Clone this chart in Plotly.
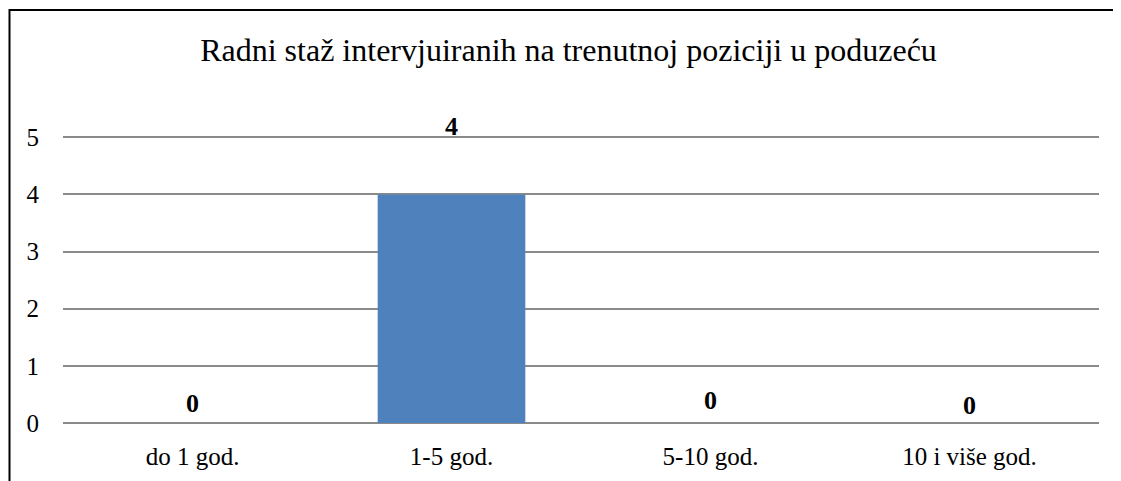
import plotly.graph_objects as go

categories = ["do 1 god.", "1-5 god.", "5-10 god.", "10 i više god."]
values = [0, 4, 0, 0]
label_shift = [20, 68, 23, 18]
y_ticks = [0, 1, 2, 3, 4, 5]
y_max = 5.04

OX, OY = 8, 8  # page body offset
W, H = 1121 - OX, 481 - OY
unit = (423 - 137) / 5.0
L, R, B = 63 - OX, 22, 58
T = int(round(423 - y_max * unit)) - OY
pw, ph = W - L - R, H - T - B

fig = go.Figure()
fig.add_trace(go.Bar(x=categories, y=values, marker=dict(color="#4F81BD", line=dict(width=0)),
                     hoverinfo="skip"))

for c, v, s in zip(categories, values, label_shift):
    fig.add_annotation(x=c, y=v, text="<b>%d</b>" % v, showarrow=False, yshift=s,
                       yanchor="middle",
                       font=dict(family="Liberation Serif", size=26, color="black"))

fig.add_shape(type="rect", xref="paper", yref="paper",
              x0=(1.5 - L) / pw, x1=1.2, y0=-0.5, y1=1 + (T - 2) / ph,
              line=dict(color="black", width=2), fillcolor="rgba(0,0,0,0)", layer="above")

fig.update_layout(
    width=W, height=H,
    margin=dict(l=L, r=R, t=T, b=B),
    paper_bgcolor="white", plot_bgcolor="white",
    showlegend=False,
    bargap=0.43,
    title=dict(text="Radni staž intervjuiranih na trenutnoj poziciji u poduzeću",
               x=(568.5 - 63) / 1036, xref="paper", xanchor="center",
               y=(H - 42) / H, yanchor="middle",
               font=dict(family="Liberation Serif", size=32, color="black")),
    font=dict(family="Liberation Serif", color="black"),
    xaxis=dict(showgrid=False, showline=False, zeroline=False, ticks="",
               tickfont=dict(size=25, color="black"), ticklabelstandoff=16),
    yaxis=dict(range=[0, y_max], tickvals=y_ticks, showgrid=True, gridcolor="#8a8a8a", gridwidth=2,
               zeroline=True, zerolinecolor="#8a8a8a", zerolinewidth=2, showline=False, ticks="",
               tickfont=dict(size=25, color="black"), ticklabelstandoff=23),
)

fig.write_html("out.html")
